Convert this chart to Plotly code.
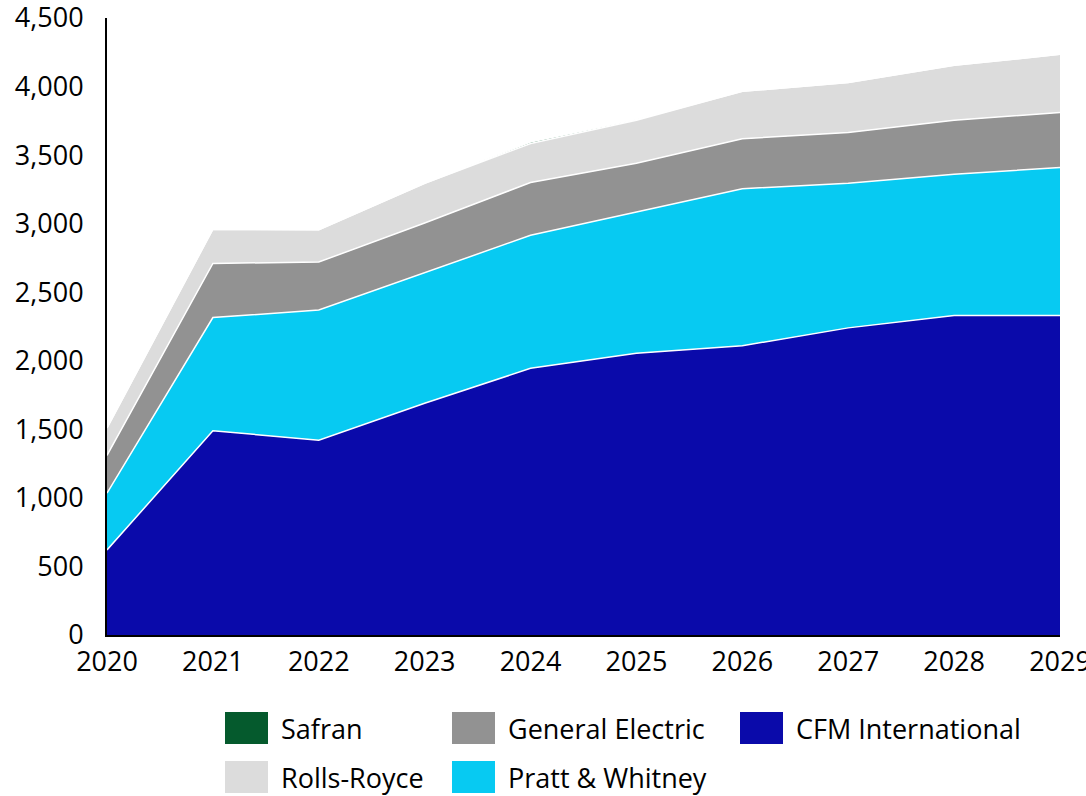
import plotly.graph_objects as go

# engine deliveries by manufacturer (stacked), 2020-2029
years = [2020, 2021, 2022, 2023, 2024, 2025, 2026, 2027, 2028, 2029]
cfm = [620, 1490, 1420, 1690, 1945, 2055, 2110, 2240, 2330, 2330]
pratt = [415, 825, 950, 955, 970, 1030, 1145, 1055, 1030, 1080]
ge = [275, 395, 350, 360, 385, 355, 365, 370, 395, 400]
rolls = [200, 250, 235, 290, 285, 315, 345, 365, 400, 425]
safran = [0, 0, 0, 0, 10, 5, 0, 0, 0, 0]

series = [
    ("CFM International", cfm, "#0A0AAA"),
    ("Pratt & Whitney", pratt, "#07CAF2"),
    ("General Electric", ge, "#929292"),
    ("Rolls-Royce", rolls, "#DCDCDC"),
    ("Safran", safran, "#055A2D"),
]

W, H = 1086, 796
L, R, T, B = 107, 26, 18, 161
PW_, PH_ = W - L - R, H - T - B


def px(x, y):
    """pixel -> paper coords"""
    return (x - L) / PW_, (H - B - y) / PH_


fig = go.Figure()
for name, vals, col in series:
    fig.add_trace(go.Scatter(
        x=years, y=vals, name=name, mode="lines", stackgroup="one",
        fillcolor=col, line=dict(color="white", width=1.5),
        showlegend=False,
    ))

# manual legend with square swatches
legend_items = [
    ("Safran", "#055A2D", 225, 728),
    ("General Electric", "#929292", 452, 728),
    ("CFM International", "#0A0AAA", 740, 728),
    ("Rolls-Royce", "#DCDCDC", 225, 777),
    ("Pratt & Whitney", "#07CAF2", 452, 777),
]
shapes, annots = [], []
for name, col, x0, yc in legend_items:
    ax0, ay0 = px(x0, yc + 16)
    ax1, ay1 = px(x0 + 43, yc - 16)
    shapes.append(dict(type="rect", xref="paper", yref="paper",
                       x0=ax0, x1=ax1, y0=ay0, y1=ay1,
                       fillcolor=col, line=dict(width=0)))
    tx, ty = px(x0 + 54, yc)
    annots.append(dict(text=name, xref="paper", yref="paper", x=tx, y=ty,
                       xanchor="left", yanchor="middle", showarrow=False,
                       font=dict(size=27, color="black", family="Open Sans")))

fig.update_layout(
    width=W, height=H,
    margin=dict(l=L, r=R, t=T, b=B),
    paper_bgcolor="white", plot_bgcolor="white",
    font=dict(family="Open Sans", size=27, color="black"),
    showlegend=False,
    shapes=shapes, annotations=annots,
    xaxis=dict(range=[2020, 2029], tickmode="array", tickvals=years,
               showgrid=False, zeroline=False, showline=True,
               linecolor="black", linewidth=2, ticks="", automargin=False,
               ticklabeloverflow="allow", ticklabelstandoff=2),
    yaxis=dict(range=[0, 4500], dtick=500, tickformat=",",
               showgrid=False, zeroline=False, showline=True,
               linecolor="black", linewidth=2, ticks="", automargin=False,
               ticklabeloverflow="allow", ticklabelstandoff=16),
)

fig.write_html("out.html", config={"displayModeBar": False},
               post_script="document.body.style.margin='0';"
                           "document.body.style.overflow='hidden';")
